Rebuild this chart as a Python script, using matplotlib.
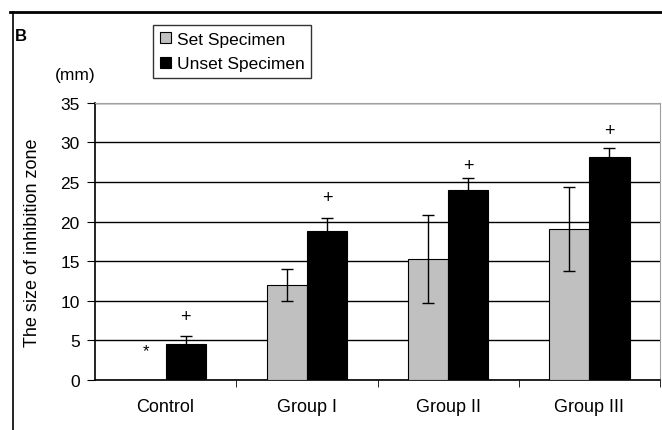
import numpy as np
import matplotlib
matplotlib.use('Agg')
import matplotlib.pyplot as plt
from matplotlib.lines import Line2D

plt.rcParams['font.family'] = ['Liberation Sans', 'DejaVu Sans']

groups = ['Control', 'Group I', 'Group II', 'Group III']
set_mean = [0.0, 12.0, 15.3, 19.1]
set_err = [0.0, 2.0, 5.6, 5.3]
unset_mean = [4.6, 18.8, 24.0, 28.2]
unset_err = [1.0, 1.7, 1.5, 1.1]
plus_y = [8.0, 23.0, 27.1, 31.5]
star_y = 3.7

fig = plt.figure(figsize=(6.62, 4.31), dpi=100)
ax = fig.add_axes([0.1435, 0.116, 0.8535, 0.643])

x = np.arange(len(groups))
w = 0.284
ax.bar(x - w/2, set_mean, w, color='#c0c0c0', edgecolor='black', linewidth=0.8,
       label='Set Specimen', zorder=3)
ax.bar(x + w/2, unset_mean, w, color='black', edgecolor='black', linewidth=0.8,
       label='Unset Specimen', zorder=3)
ax.errorbar(x[1:] - w/2, set_mean[1:], yerr=set_err[1:], fmt='none', ecolor='black',
            elinewidth=1, capsize=4, capthick=1, zorder=4)
ax.errorbar(x + w/2, unset_mean, yerr=unset_err, fmt='none', ecolor='black',
            elinewidth=1, capsize=4, capthick=1, zorder=4)

for xi, yi in zip(x + w/2, plus_y):
    ax.text(xi, yi, '+', ha='center', va='center', fontsize=13)
ax.text(x[0] - w/2, star_y, '*', ha='center', va='center', fontsize=12)

ax.set_xlim(-0.5, 3.5)
ax.set_ylim(0, 35)
ax.set_yticks(range(0, 36, 5))
ax.yaxis.grid(True, color='black', linewidth=1, zorder=0)
ax.set_axisbelow(True)
ax.set_xticks(x)
ax.set_xticklabels(groups, fontsize=13)
ax.set_xticks([0.5, 1.5, 2.5, 3.5], minor=True)
ax.tick_params(axis='x', which='major', length=0, pad=13)
ax.tick_params(axis='x', which='minor', length=5, direction='out')
ax.tick_params(axis='y', length=6, pad=5, labelsize=12.5, direction='out')
ax.spines['top'].set_color('#a0a0a0')
ax.spines['right'].set_color('#a0a0a0')
ax.spines['left'].set_linewidth(1.2)
ax.spines['bottom'].set_linewidth(1.2)
ax.set_ylabel('The size of inhibition zone', fontsize=13)
ax.yaxis.set_label_coords(-0.095, 0.5)

fig.text(0.083, 0.824, '(mm)', fontsize=12.5, ha='left', va='center')
fig.text(0.022, 0.916, 'B', fontsize=12, fontweight='bold', ha='left', va='center')

leg = ax.legend(loc='upper left', bbox_to_anchor=(0.2315, 0.94), bbox_transform=fig.transFigure,
                fontsize=12.5, frameon=True, fancybox=False, handlelength=0.6, handleheight=0.6,
                handletextpad=0.35, borderpad=0.4, labelspacing=0.55, borderaxespad=0)
leg.get_frame().set_edgecolor('black')
leg.get_frame().set_linewidth(1)

# outer frame: top rule and left rule
fig.add_artist(Line2D([0.015, 1.0], [0.97, 0.97], color='black', linewidth=2))
fig.add_artist(Line2D([0.019, 0.019], [0.0, 0.97], color='black', linewidth=1.2))

fig.savefig('out.png', dpi=100)
